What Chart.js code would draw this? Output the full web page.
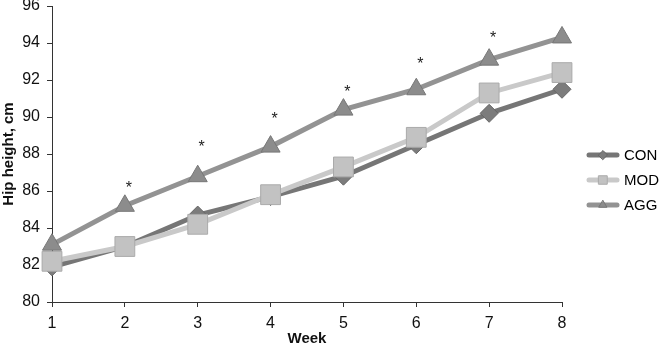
<!DOCTYPE html>
<html>
<head>
<meta charset="utf-8">
<script src="https://cdn.jsdelivr.net/npm/chart.js@4"></script>
<style>
  body { margin: 0; background: #fff; }
  #wrap { width: 660px; height: 348px; }
</style>
</head>
<body>
<div id="wrap"><canvas id="hipChart"></canvas></div>
<script>
const weeks = [1, 2, 3, 4, 5, 6, 7, 8];
const conValues = [81.9, 83.0, 84.7, 85.7, 86.8, 88.5, 90.2, 91.5];
const modValues = [82.2, 83.0, 84.2, 85.8, 87.3, 88.9, 91.3, 92.4];
const aggValues = [83.1, 85.2, 86.8, 88.4, 90.4, 91.5, 93.1, 94.3];
// significance marks, placed above AGG
const starWeeks = [2, 3, 4, 5, 6, 7];
const starValues = [86.3, 88.5, 90.0, 91.5, 93.0, 94.4];

const FONT = "'Liberation Sans', Arial, sans-serif";

function toPoints(values) {
    return weeks.map((w, i) => ({ x: w, y: values[i] }));
}

const starPlugin = {
    id: 'stars',
    afterDatasetsDraw(chart) {
        const ctx = chart.ctx;
        const xs = chart.scales.x;
        const ys = chart.scales.y;
        ctx.save();
        ctx.fillStyle = '#222';
        ctx.font = '16px ' + FONT;
        ctx.textAlign = 'center';
        ctx.textBaseline = 'middle';
        starWeeks.forEach((w, i) => {
            ctx.fillText('*', xs.getPixelForValue(w) + 4, ys.getPixelForValue(starValues[i]) + 3);
        });
        ctx.restore();
    }
};

const legendPlugin = {
    id: 'sideLegend',
    afterDraw(chart) {
        const ctx = chart.ctx;
        ctx.save();
        ctx.font = '15px ' + FONT;
        ctx.textBaseline = 'middle';
        chart.data.datasets.forEach((ds, i) => {
            const y = 155 + i * 25;
            ctx.strokeStyle = ds.borderColor;
            ctx.lineWidth = 5;
            ctx.lineCap = 'round';
            ctx.beginPath();
            ctx.moveTo(589, y);
            ctx.lineTo(617, y);
            ctx.stroke();
            ctx.fillStyle = ds.pointBackgroundColor;
            ctx.strokeStyle = ds.pointBorderColor;
            ctx.lineWidth = 1;
            Chart.helpers.drawPoint(ctx, {
                pointStyle: ds.pointStyle,
                radius: ds.pointStyle === 'rect' ? 6 : 4.5,
                borderWidth: 1
            }, 603, y);
            ctx.fillStyle = '#000';
            ctx.fillText(ds.label, 624, y + 1);
        });
        ctx.restore();
    }
};

function initializeChart() {

    const ctx = document.getElementById('hipChart').getContext('2d');

    new Chart(ctx, {
        type: 'line',
        data: {
            datasets: [
                {
                    label: 'CON',
                    data: toPoints(conValues),
                    borderColor: '#767676',
                    borderWidth: 5,
                    pointStyle: 'rectRot',
                    pointRadius: 9,
                    pointBackgroundColor: '#7c7c7c',
                    pointBorderColor: '#666',
                    pointBorderWidth: 1,
                    clip: false,
                    order: 1
                },
                {
                    label: 'MOD',
                    data: toPoints(modValues),
                    borderColor: '#c9c9c9',
                    borderWidth: 5,
                    pointStyle: 'rect',
                    pointRadius: 14,
                    pointBackgroundColor: '#c2c2c2',
                    pointBorderColor: '#aaa',
                    pointBorderWidth: 1,
                    clip: false,
                    order: 0
                },
                {
                    label: 'AGG',
                    data: toPoints(aggValues),
                    borderColor: '#939393',
                    borderWidth: 5,
                    pointStyle: 'triangle',
                    pointRadius: 11,
                    pointBackgroundColor: '#8c8c8c',
                    pointBorderColor: '#777',
                    pointBorderWidth: 1,
                    clip: false,
                    order: 2
                }
            ]
        },
        options: {
            responsive: true,
            maintainAspectRatio: false,
            animation: false,
            layout: { autoPadding: false, padding: { top: 6, right: 98, left: 0, bottom: 0 } },
            plugins: {
                legend: { display: false },
                tooltip: { enabled: false }
            },
            scales: {
                x: {
                    type: 'linear',
                    min: 1,
                    max: 8,
                    grid: { display: true, drawOnChartArea: false, drawTicks: true, tickLength: 5, color: '#333' },
                    border: { color: '#333', width: 1 },
                    ticks: { stepSize: 1, color: '#111', font: { size: 16, family: FONT }, padding: 7 },
                    title: {
                        display: true, text: 'Week', color: '#111',
                        font: { size: 15, weight: 'bold', family: FONT },
                        padding: { top: 8, bottom: 0 }
                    },
                    afterFit: s => { s.height = 46; s.paddingLeft = 0; s.paddingRight = 0; }
                },
                y: {
                    min: 80,
                    max: 96,
                    grid: { display: true, drawOnChartArea: false, drawTicks: true, tickLength: 5, color: '#333' },
                    border: { color: '#333', width: 1 },
                    ticks: { stepSize: 2, color: '#111', font: { size: 16, family: FONT }, padding: 7 },
                    title: {
                        display: true, text: 'Hip height, cm', color: '#111',
                        font: { size: 15, weight: 'bold', family: FONT },
                        padding: { top: 0, bottom: 4 }
                    },
                    afterFit: s => { s.width = 52; s.paddingTop = 0; s.paddingBottom = 0; }
                }
            }
        },
        plugins: [starPlugin, legendPlugin]
    });
}

window.onload = function () {
    initializeChart();
};
</script>
</body>
</html>
